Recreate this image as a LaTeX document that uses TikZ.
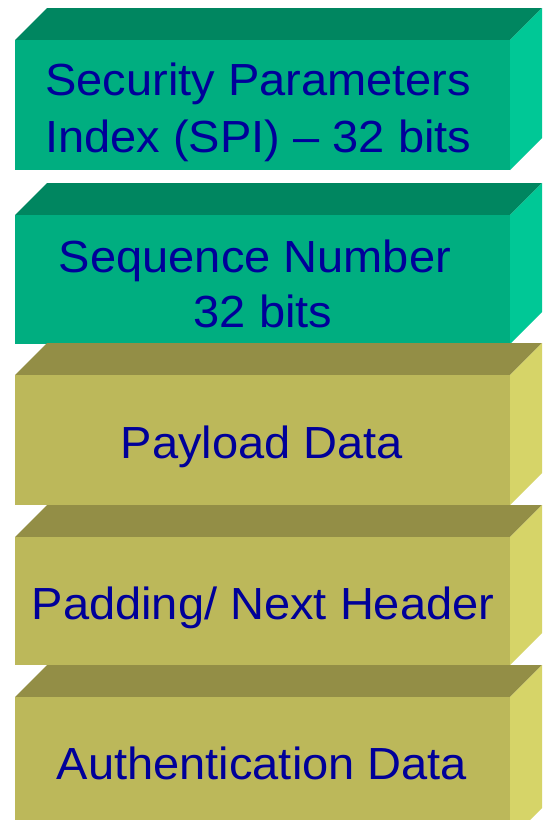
\documentclass[tikz,border=0pt]{standalone}
\usepackage{fontspec}
\setmainfont{Liberation Sans}[FakeStretch=1.045]
\definecolor{gfront}{RGB}{0,174,128}
\definecolor{gtop}{RGB}{0,134,96}
\definecolor{gside}{RGB}{0,200,150}
\definecolor{yfront}{RGB}{188,184,90}
\definecolor{ytop}{RGB}{147,142,70}
\definecolor{yside}{RGB}{214,212,104}
\definecolor{txt}{RGB}{0,0,153}
\newcommand\espblock[5]{% #1 top y of front, #2 bottom y, #3 front, #4 top, #5 side
  \fill[#4] (15,#1) -- (510,#1) -- (542,#1-32) -- (47,#1-32) -- cycle;
  \fill[#5] (510,#1) -- (542,#1-32) -- (542,#2-32) -- (510,#2) -- cycle;
  \fill[#3] (15,#1) rectangle (510,#2);
}
\begin{document}
\begin{tikzpicture}[x=1pt,y=-1pt,
  lbl/.style={text=txt,font=\fontsize{45}{57}\selectfont,inner sep=0pt,anchor=base}]
\useasboundingbox (0,0) rectangle (546,820);
\fill[white] (0,0) rectangle (546,820);
\espblock{40}{170}{gfront}{gtop}{gside}
\espblock{215}{344}{gfront}{gtop}{gside}
\espblock{375}{505}{yfront}{ytop}{yside}
\espblock{537}{665}{yfront}{ytop}{yside}
\espblock{697}{840}{yfront}{ytop}{yside}
\node[lbl,anchor=base west] (spi1) at (45,95) {Security Parameters};
\node[lbl,anchor=base west] (spi2) at (45,152) {Index (SPI) – 32 bits};
\node[lbl] (seq1) at (255,272) {Sequence Number};
\node[lbl] (seq2) at (263,327) {32 bits};
\node[lbl] (pay) at (262,458) {Payload Data};
\node[lbl] (pad) at (263,619) {Padding/ Next Header};
\node[lbl] (auth) at (262,779) {Authentication Data};
\end{tikzpicture}
\end{document}
